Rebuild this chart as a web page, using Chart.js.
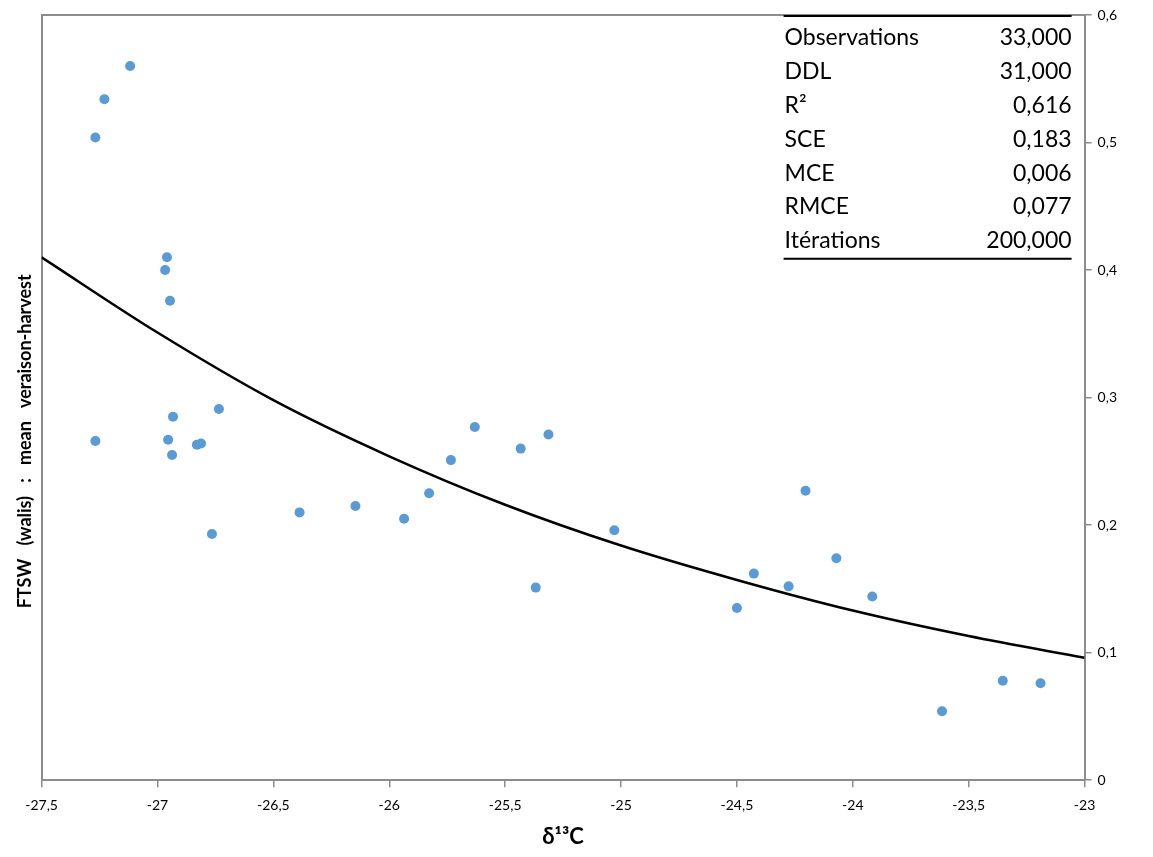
<!DOCTYPE html>
<html>
<head>
<meta charset="utf-8">
<script src="https://cdn.jsdelivr.net/npm/chart.js@4"></script>
<style>
  html, body { margin: 0; padding: 0; background: #fff; }
  #wrap { width: 1153px; height: 857px; }
</style>
</head>
<body>
<div id="wrap"><canvas id="myChart" width="1153" height="857"></canvas></div>
<script>
// observed points (delta 13C vs FTSW)
const d13c = [-27.118, -27.229, -27.268, -26.959, -26.967, -26.946, -26.933, -26.735,
    -27.268, -26.954, -26.830, -26.812, -26.937, -26.765, -26.387, -26.146, -25.936,
    -25.828, -25.734, -25.631, -25.433, -25.313, -25.368, -25.029, -24.500, -24.427,
    -24.277, -24.204, -24.071, -23.916, -23.615, -23.353, -23.190];
const ftsw = [0.560, 0.534, 0.504, 0.410, 0.400, 0.376, 0.285, 0.291,
    0.266, 0.267, 0.263, 0.264, 0.255, 0.193, 0.210, 0.215, 0.205,
    0.225, 0.251, 0.277, 0.260, 0.271, 0.151, 0.196, 0.135, 0.162,
    0.152, 0.227, 0.174, 0.144, 0.054, 0.078, 0.076];

// fitted curve at each x tick
const fitX = [-27.5, -27, -26.5, -26, -25.5, -25, -24.5, -24, -23.5, -23];
const fitY = [0.410, 0.351, 0.298, 0.254, 0.216, 0.184, 0.157, 0.133, 0.113, 0.096];

// stats table
const statLabels = ['Observations', 'DDL', 'R²', 'SCE', 'MCE', 'RMCE', 'Itérations'];
const statValues = ['33,000', '31,000', '0,616', '0,183', '0,006', '0,077', '200,000'];

const FONT = "Lato, 'Open Sans', 'DejaVu Sans', sans-serif";

function comma(v) {
    return String(Math.round(v * 100) / 100).replace('.', ',');
}

// title sits lower than the middle of the axis in the original, pad the end to push it down
const yTitle = 'FTSW   (walis)   :   mean   veraison-harvest' + ' '.repeat(20);

const statsTable = {
    id: 'statsTable',
    afterDraw(chart) {
        const ctx = chart.ctx;
        const area = chart.chartArea;
        const right = area.right - 13;
        const left = right - 288;
        const top = area.top + 1;
        const rowH = 33.8;
        ctx.save();
        ctx.strokeStyle = '#000';
        ctx.lineWidth = 2;
        ctx.beginPath();
        ctx.moveTo(left, top);
        ctx.lineTo(right, top);
        const bottom = top + 22 + rowH * (statLabels.length - 1) + 18;
        ctx.moveTo(left, bottom);
        ctx.lineTo(right, bottom);
        ctx.stroke();
        ctx.fillStyle = '#000';
        ctx.font = '23px ' + FONT;
        ctx.textBaseline = 'middle';
        for (let i = 0; i < statLabels.length; i++) {
            const y = top + 22 + rowH * i;
            ctx.textAlign = 'left';
            ctx.fillText(statLabels[i], left + 1, y);
            ctx.textAlign = 'right';
            ctx.fillText(statValues[i], right, y);
        }
        ctx.restore();
    }
};

const points = d13c.map((x, i) => ({ x: x, y: ftsw[i] }));
const fit = fitX.map((x, i) => ({ x: x, y: fitY[i] }));

const data = {
    datasets: [
        {
            label: 'fit',
            data: fit,
            showLine: true,
            borderColor: '#000',
            borderWidth: 2.5,
            pointRadius: 0,
            cubicInterpolationMode: 'monotone',
            xAxisID: 'x',
            yAxisID: 'y'
        },
        {
            label: 'FTSW',
            data: points,
            backgroundColor: '#5B9BD5',
            borderWidth: 0,
            pointRadius: 5,
            xAxisID: 'x',
            yAxisID: 'y'
        }
    ]
};

const axisGray = '#8c8c8c';

const config = {
    type: 'scatter',
    data,
    options: {
        responsive: false,
        animation: false,
        layout: { padding: { left: 14, right: 30, top: 15, bottom: 9 } },
        plugins: {
            legend: { display: false },
            tooltip: { enabled: false }
        },
        scales: {
            x: {
                type: 'linear',
                position: 'bottom',
                min: -27.5,
                max: -23,
                ticks: {
                    stepSize: 0.5,
                    color: '#000',
                    font: { family: FONT, size: 14 },
                    padding: 10,
                    callback: v => comma(v)
                },
                grid: { display: true, drawOnChartArea: false, tickLength: 7, color: axisGray, lineWidth: 1.5 },
                border: { display: true, color: axisGray, width: 2 },
                title: {
                    display: true,
                    text: 'δ¹³C',
                    color: '#000',
                    font: { family: FONT, size: 22, weight: 'bold', lineHeight: 1 },
                    padding: { top: 2, bottom: 0 }
                }
            },
            x2: {
                type: 'linear',
                position: 'top',
                min: -27.5,
                max: -23,
                ticks: { display: false },
                grid: { display: false, drawTicks: false },
                border: { display: true, color: axisGray, width: 2 }
            },
            y: {
                type: 'linear',
                position: 'right',
                min: 0,
                max: 0.6,
                ticks: {
                    stepSize: 0.1,
                    color: '#000',
                    font: { family: FONT, size: 14 },
                    padding: 6,
                    callback: v => comma(v)
                },
                grid: { display: true, drawOnChartArea: false, tickLength: 7, color: axisGray, lineWidth: 1.5 },
                border: { display: true, color: axisGray, width: 2 }
            },
            y2: {
                type: 'linear',
                position: 'left',
                min: 0,
                max: 0.6,
                ticks: { display: false },
                grid: { display: false, drawTicks: false },
                border: { display: true, color: axisGray, width: 2 },
                title: {
                    display: true,
                    text: yTitle,
                    color: '#000',
                    font: { family: FONT, size: 18, weight: 'bold' },
                    padding: { top: 0, bottom: 6 }
                }
            }
        }
    },
    plugins: [statsTable]
};

const myChart = new Chart(
    document.getElementById('myChart'),
    config
);
</script>
</body>
</html>
